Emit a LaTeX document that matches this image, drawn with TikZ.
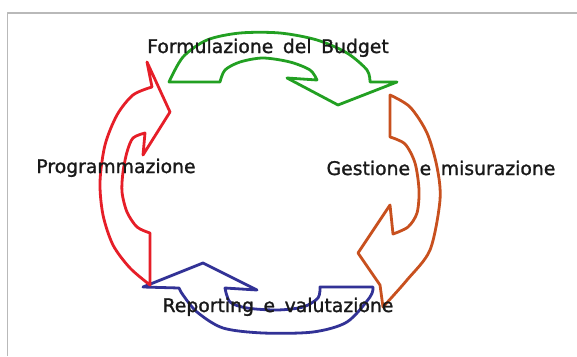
\documentclass[tikz,border=0pt]{standalone}
\usepackage{fontspec}
\newfontfamily\lblfont[FakeBold=1.3,WordSpace=1.6]{DejaVu Sans}
\usepackage{xcolor}
\definecolor{cycgreen}{RGB}{34,160,34}
\definecolor{cycorange}{RGB}{200,80,30}
\definecolor{cycred}{RGB}{230,30,40}
\definecolor{cycblue}{RGB}{50,50,150}
\definecolor{lbltext}{RGB}{25,25,25}

\begin{document}
\begin{tikzpicture}[x=1pt,y=-1pt,line join=round,
  band/.style={line width=2.8pt,fill=white},
  lbl/.style={anchor=base,text=lbltext,inner sep=0pt,font=\lblfont\fontsize{18.8}{21}\selectfont}]
\useasboundingbox (0,0) rectangle (577,356);
\fill[white] (0,0) rectangle (577,356);
\draw[gray!55,line width=1.5pt] (7.5,356) -- (7.5,13) -- (577,13);
% green: formulazione
\draw[band,draw=cycgreen] (169,82) -- (220,82)
  -- plot[smooth] coordinates {(220,82) (225,70) (240,62) (263,58) (290,62) (310,70) (317,80)}
  -- (287,78) -- (338,105) -- (397,82) -- (370,82)
  -- plot[smooth] coordinates {(370,82) (367,70) (347,53) (317,40) (280,33) (240,33) (207,40) (183,57) (169,82)}
  -- cycle;
% orange: gestione
\draw[band,draw=cycorange] (390,95) -- (390,137)
  -- plot[smooth] coordinates {(390,137) (405,144) (415,163) (419,190) (417,213) (408,227) (393,234)}
  -- (390,205) -- (358,253) -- (380,285) -- (383,307)
  -- plot[smooth] coordinates {(383,307) (407,280) (430,250) (440,200) (437,167) (427,133) (410,107) (390,95)}
  -- cycle;
% blue: reporting
\draw[band,draw=cycblue] (203,263) -- (257,290) -- (225,288)
  -- plot[smooth] coordinates {(225,288) (230,302) (247,308) (277,310) (303,307) (318,298) (320,287)}
  -- (373,287)
  -- plot[smooth] coordinates {(373,287) (370,297) (347,322) (313,332) (263,333) (223,328) (197,312) (183,295) (179,288)}
  -- (143,287) -- cycle;
% red: programmazione
\draw[band,draw=cycred] (147,62) -- (170,112) -- (143,155) -- (145,133)
  -- plot[smooth] coordinates {(145,133) (133,138) (127,152) (123,172) (122,192) (127,212) (137,227) (150,233)}
  -- (150,285)
  -- plot[smooth] coordinates {(150,285) (130,268) (113,245) (103,215) (100,182) (105,145) (117,115) (133,95) (152,87)}
  -- cycle;
% labels
\node[lbl] (budget) at (268,53) {Formulazione del Budget};
\node[lbl] (progr) at (116,173) {Programmazione};
\node[lbl] (gest) at (441,175) {Gestione e misurazione};
\node[lbl] (report) at (278,312) {Reporting e valutazione};
\end{tikzpicture}
\end{document}
